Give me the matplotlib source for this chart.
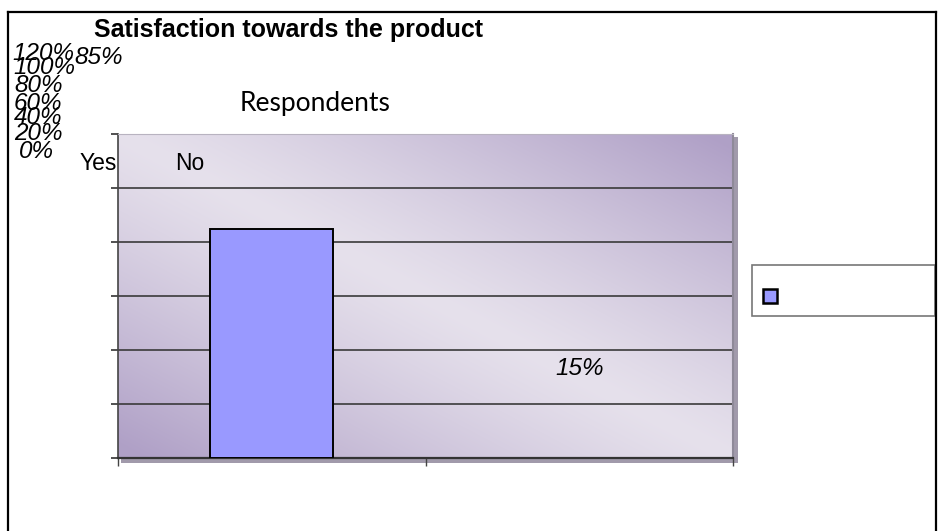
import numpy as np
import matplotlib.pyplot as plt
from matplotlib.patches import Rectangle
from matplotlib.lines import Line2D

# data
categories = ['Yes', 'No']
values = [0.85, 0.15]
yticks = [0.0, 0.2, 0.4, 0.6, 0.8, 1.0, 1.2]
title = 'Satisfaction towards the product'
series_name = 'Respondents'

W, H = 938, 531
fig = plt.figure(figsize=(W / 100, H / 100), dpi=100, facecolor='white')

def fx(px):
    return px / W

def fy(py):
    return 1 - py / H

# outer chart frame
for xs, ys in [((8, 8), (12, H + 5)), ((8, 936), (12, 12)), ((936, 936), (12, H + 5))]:
    fig.add_artist(Line2D([fx(x) for x in xs], [fy(y) for y in ys], color='black', lw=1.6))

# plot area
L, T, R, B = 118, 134, 733, 458
ax = fig.add_axes([fx(L), fy(B), fx(R - L), (B - T) / H])

# drop shadow right/bottom of the plot area
fig.add_artist(Rectangle((fx(L + 3), fy(B + 5)), fx(R - L + 2), (B - T + 2) / H,
                         facecolor='#a19aab', edgecolor='none', zorder=0))

# diagonal purple gradient
n = 300
gx, gy = np.meshgrid(np.linspace(0, 1, n), np.linspace(0, 1, n))
t = np.clip(np.abs(gx + gy - 1.0) * 1.05, 0, 1) ** 1.2
light = np.array([0.902, 0.882, 0.925])
dark = np.array([0.690, 0.630, 0.780])
img = light + (dark - light) * t[..., None]
ax.imshow(img, extent=[0, 1, 0, 1], transform=ax.transAxes, origin='lower',
          aspect='auto', zorder=0, interpolation='bilinear')

x = np.arange(len(categories)) + 0.5
ax.bar(x[0], values[0], width=0.4, color='#9999ff', edgecolor='black', lw=1.4, zorder=3)
# second series bar has no fill in the original chart
ax.bar(x[1], values[1], width=0.4, color='none', edgecolor='none', zorder=3)

ax.set_xlim(0, 2)
ax.set_ylim(0, 1.2)
ax.set_yticks(yticks)
ax.set_xticks([0, 1, 2])
ax.tick_params(axis='y', direction='out', length=5, width=1.2, color='#333333', labelleft=False)
ax.tick_params(axis='x', direction='out', length=6, width=1.0, color='#444444', labelbottom=False)
for v in yticks[1:]:
    ax.axhline(v, color='#3a3a3a', lw=1.2, zorder=2)
ax.spines['left'].set_color('#444444')
ax.spines['left'].set_linewidth(1.2)
ax.spines['bottom'].set_color('#333333')
ax.spines['bottom'].set_linewidth(1.6)
ax.spines['top'].set_color('#b8b3c0')
ax.spines['right'].set_color('#8f8a99')
ax.spines['right'].set_linewidth(1.5)

# title and series name
fig.text(fx(288), fy(30), title, ha='center', va='center', fontsize=18,
         fontweight='bold', family='Liberation Sans')
fig.text(fx(315), fy(104), series_name, ha='center', va='center', fontsize=19,
         family='Lato')

# axis labels piled up at the top-left
tick_y = [151, 133, 118, 103, 86, 68, 54]
tick_x = [19, 14, 14, 14, 14, 13, 12]
for v, px, py in zip(yticks, tick_x, tick_y):
    fig.text(fx(px), fy(py), f'{v:.0%}', ha='left', va='center',
             fontsize=17.5, style='italic', family='Liberation Sans')
for name, px in zip(categories, [80, 175]):
    fig.text(fx(px), fy(163), name, ha='left', va='center', fontsize=16.5,
             family='Liberation Sans')

# value labels
fig.text(fx(74), fy(57), f'{values[0]:.0%}', ha='left', va='center', fontsize=17.5,
         style='italic', family='Liberation Sans')
ax.text(x[1], 0.333, f'{values[1]:.0%}', ha='center', va='center', fontsize=17.5,
        style='italic', family='Liberation Sans', zorder=4)

# legend box with only the swatch
fig.add_artist(Rectangle((fx(752), fy(316)), fx(935 - 752), (316 - 265) / H,
                         facecolor='white', edgecolor='#777777', lw=1.2))
fig.add_artist(Rectangle((fx(763), fy(303)), fx(14), 14 / H,
                         facecolor='#9999ff', edgecolor='black', lw=1.8))

fig.savefig('out.png', dpi=100)
